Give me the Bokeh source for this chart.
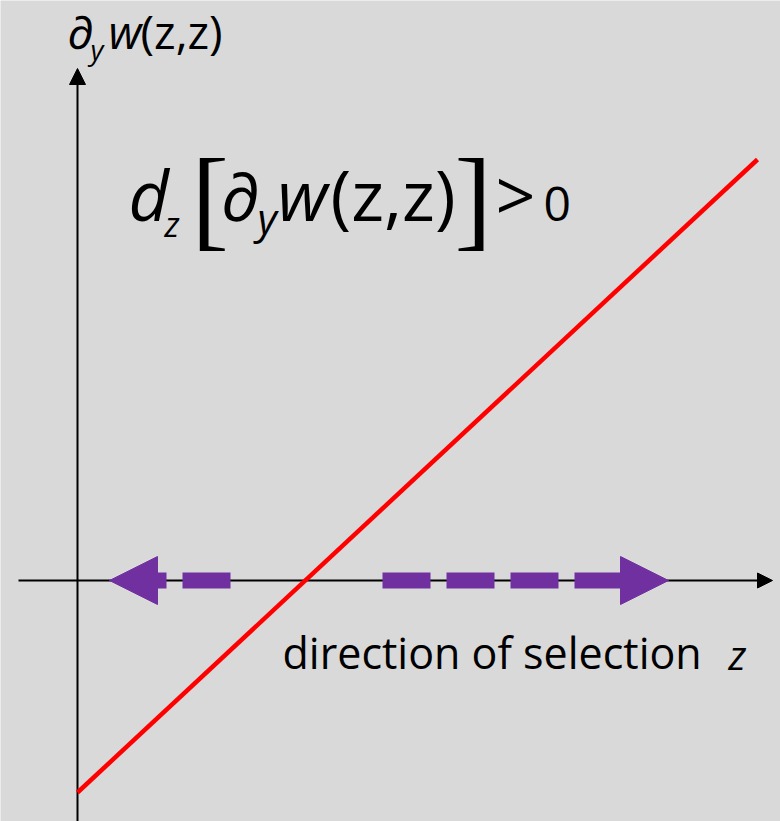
from bokeh.plotting import figure
from bokeh.models import Range1d, Arrow, NormalHead, Label
from bokeh.embed import file_html
from bokeh.resources import INLINE

BG = "#d9d9d9"
PURPLE = "#7030a0"
FONT = "Open Sans"

# Coordinates: the axes cross at the origin, one unit per screen pixel.
z_axis = [-59, 695]          # horizontal axis (z), start and arrow tip
w_axis = [-241, 512]         # vertical axis, start and arrow tip
line_z = [0, 680]            # d_z [dy w(z,z)] > 0 : increasing line
line_w = [-212, 421]
sel_left = [153, 32]         # selection arrow towards lower z: start, tip
sel_right = [305, 591]       # selection arrow towards higher z: start, tip

p = figure(width=780, height=821,
           x_range=Range1d(-77, 703), y_range=Range1d(-241, 580),
           output_backend="svg", toolbar_location=None, min_border=0,
           x_axis_location=None, y_axis_location=None,
           background_fill_color=BG, border_fill_color=BG,
           outline_line_color=None)
for g in p.grid:
    g.visible = False

# axes with arrow heads
p.add_layout(Arrow(end=NormalHead(size=15, fill_color="black", line_color="black", line_width=1),
                   x_start=z_axis[0], y_start=0, x_end=z_axis[1], y_end=0,
                   line_color="black", line_width=2, level="underlay"))
p.add_layout(Arrow(end=NormalHead(size=16, fill_color="black", line_color="black", line_width=1),
                   x_start=0, y_start=w_axis[0], x_end=0, y_end=w_axis[1],
                   line_color="black", line_width=2, level="underlay"))

# the gradient line
p.line(line_z, line_w, line_color="#ff0000", line_width=4.5)

# dashed arrows showing the direction of selection
for s in (sel_left, sel_right):
    p.add_layout(Arrow(end=NormalHead(size=48, fill_color=PURPLE, line_color=PURPLE, line_width=1),
                       x_start=s[0], y_start=0, x_end=s[1], y_end=0,
                       line_color=PURPLE, line_width=16, line_dash="48 16", line_cap="butt"))


def lab(x, y, text, size, style="normal", font=FONT):
    # y is the baseline; lift by the renderer's baseline offset
    p.add_layout(Label(x=x, y=y + 0.35 * size, text=text, text_font=font,
                       text_font_size=f"{size}px", text_font_style=style,
                       text_color="black", text_align="left",
                       text_baseline="alphabetic"))


# vertical axis title: ∂_y w(z,z)
lab(-10, 533, "∂", 46)
lab(13, 522, "y", 28, "italic")
lab(31, 533, "w", 46, "italic")
lab(63, 533, "(z,z)", 46)

# d_z [ ∂_y w(z,z) ] > 0
lab(51, 362, "d", 70, "italic")
lab(87, 345, "z", 34, "italic")
lab(114, 343, "[", 112, font="DejaVu Sans ExtraLight")
lab(143, 362, "∂", 68, "italic")
lab(180, 348, "y", 42, "italic")
lab(200, 362, "w", 70, "italic")
lab(253, 362, "(z,z)", 70)
lab(377, 343, "]", 112, font="DejaVu Sans ExtraLight")
lab(418, 362, ">", 70)
lab(466, 360, "0", 48)

# horizontal axis title
lab(205, -87, "direction of selection", 43)
lab(651, -88, "z", 40, "italic")

open("out.html", "w").write(file_html(p, INLINE))
